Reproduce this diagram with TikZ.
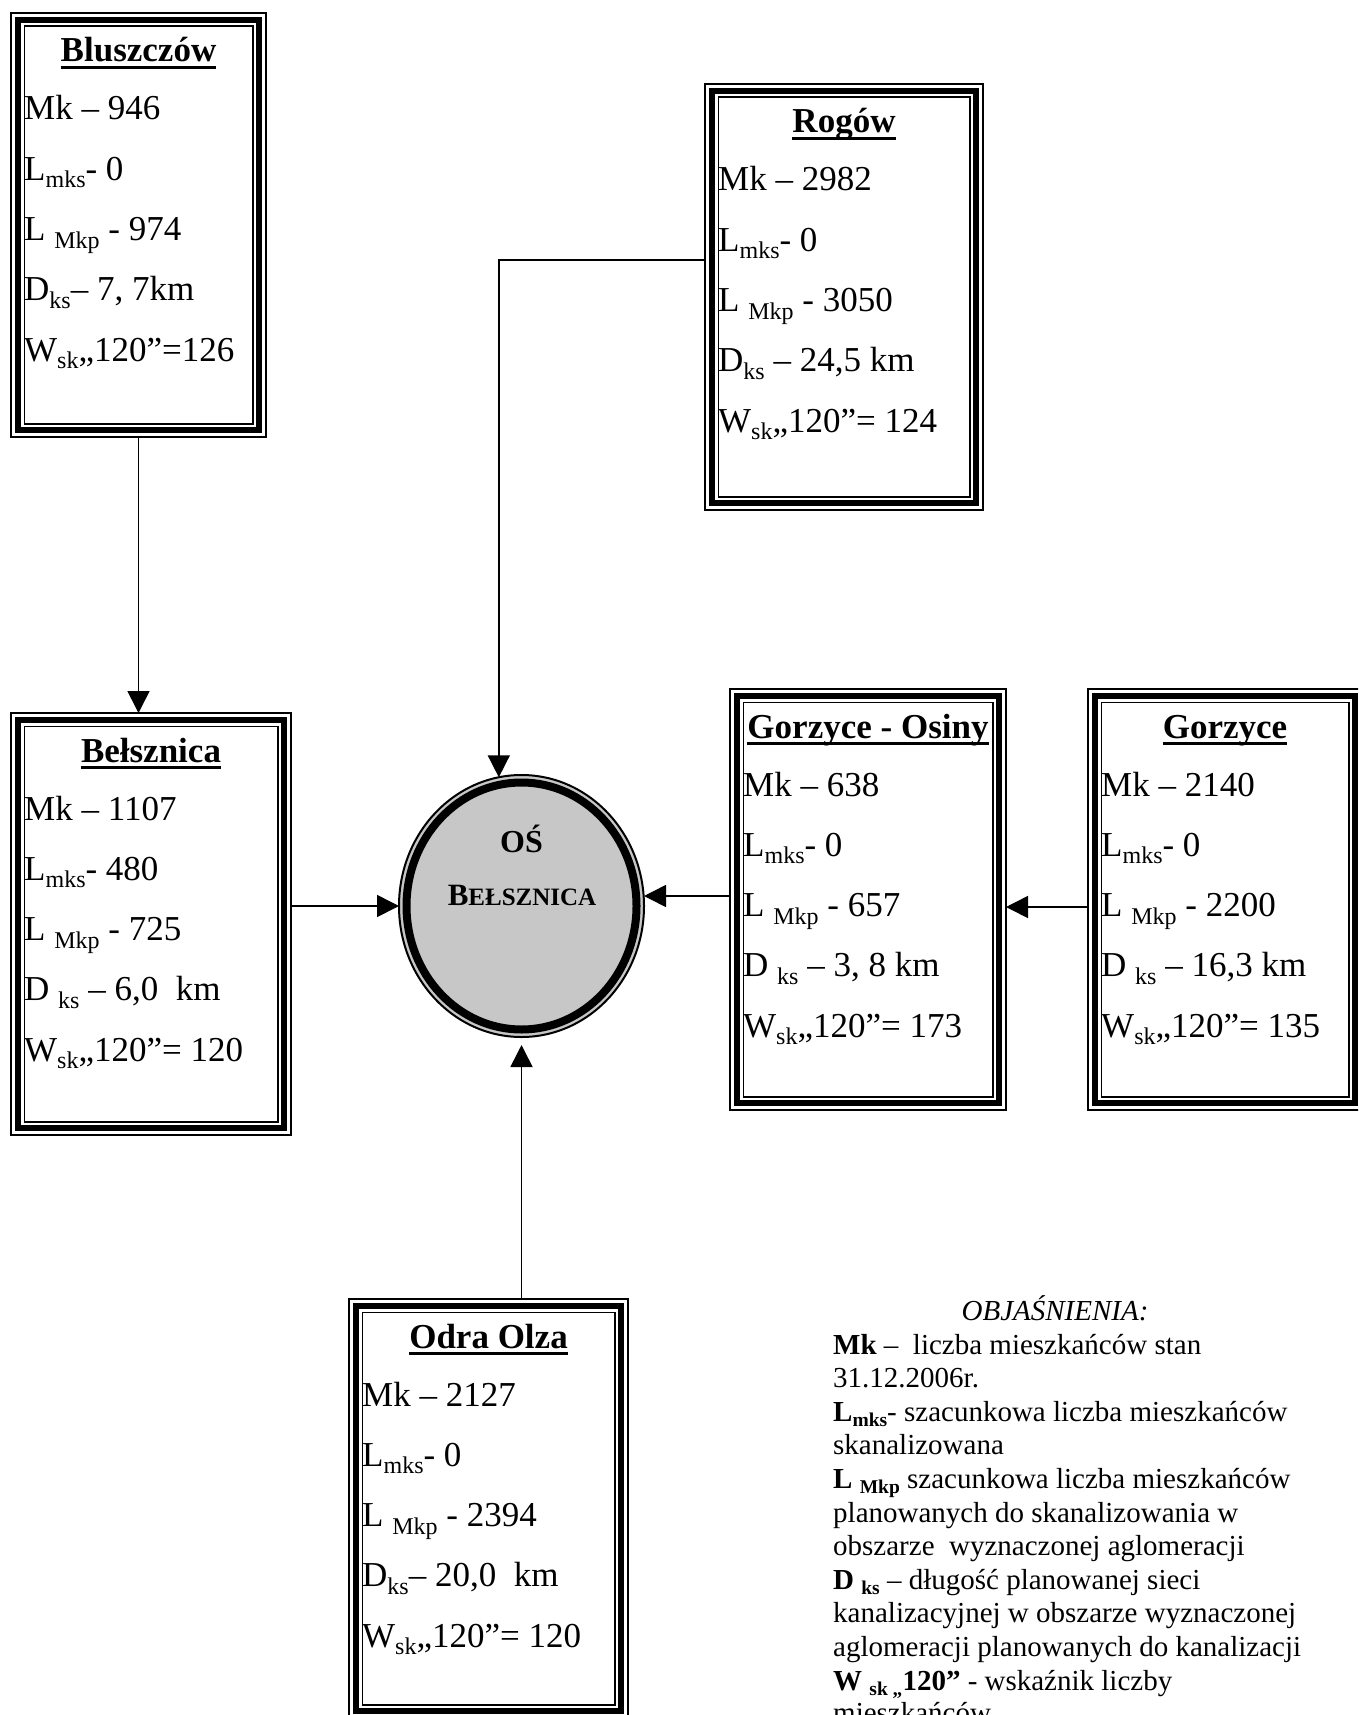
\documentclass[tikz,border=0pt]{standalone}
\usepackage{fontspec}
\setmainfont{Liberation Serif}
\usetikzlibrary{arrows.meta,shapes.geometric}
\newcommand\lsub[1]{\raisebox{-7.5pt}{\fontsize{24}{24}\selectfont #1}}
\newcommand\gsub[1]{\raisebox{-5.5pt}{\fontsize{19.5}{20}\selectfont #1}}
\newcommand\ulx[1]{\setbox0\hbox{#1}\rlap{\rule[-6.8pt]{\wd0}{2.4pt}}\box0}
\newcommand\tframe[1]{%
  \draw[line width=1.7pt] (#1.north west) rectangle (#1.south east);
  \draw[line width=6pt] ([shift={(7pt,-7pt)}]#1.north west) rectangle ([shift={(-7pt,7pt)}]#1.south east);
  \draw[line width=1.5pt] ([shift={(13.25pt,-13.25pt)}]#1.north west) rectangle ([shift={(-13.25pt,13.25pt)}]#1.south east);}
\newcommand\boxtext[7]{%
  \node[ttl] (#1-t) at ([yshift=-49pt]#1.north) {\ulx{#2}};
  \node[ln] (#1-1) at ([shift={(13pt,-107pt)}]#1.north west) {#3};
  \node[ln] (#1-2) at ([shift={(13pt,-167.3pt)}]#1.north west) {#4};
  \node[ln] (#1-3) at ([shift={(13pt,-227.6pt)}]#1.north west) {#5};
  \node[ln] (#1-4) at ([shift={(13pt,-287.9pt)}]#1.north west) {#6};
  \node[ln] (#1-5) at ([shift={(13pt,-348.2pt)}]#1.north west) {#7};}
\tikzset{
  boxn/.style={rectangle, anchor=north west, inner sep=0pt, outer sep=0pt},
  ttl/.style={anchor=base, inner sep=0pt, font=\fontsize{35}{42}\selectfont\bfseries},
  ln/.style={anchor=base west, inner sep=0pt, font=\fontsize{35}{42}\selectfont},
  hub/.style={ellipse, draw, line width=2pt, fill=black!22, minimum width=245pt, minimum height=262pt, inner sep=0pt, outer sep=0pt},
  hubt/.style={anchor=base, inner sep=0pt, font=\bfseries},
  conn/.style={line width=1.6pt, -{Triangle[length=22pt,width=22pt]}},
  leg/.style={anchor=base west, inner sep=0pt, font=\fontsize{29}{33}\selectfont},
}
\begin{document}
\begin{tikzpicture}[x=1pt,y=-1pt]
\useasboundingbox (0,0) rectangle (1358,1715);
\clip (0,0) rectangle (1358,1715);
\fill[white] (0,0) rectangle (1358,1715);

% boxes
\node[boxn, minimum width=255pt, minimum height=424pt] (blu) at (11,13) {};
\node[boxn, minimum width=278pt, minimum height=426pt] (rog) at (705,84) {};
\node[boxn, minimum width=280pt, minimum height=422pt] (bel) at (11,713) {};
\node[boxn, minimum width=276pt, minimum height=421pt] (osi) at (730,689) {};
\node[boxn, minimum width=274pt, minimum height=421pt] (gor) at (1088,689) {};
\node[boxn, minimum width=279pt, minimum height=419pt] (odr) at (349,1299) {};
\tframe{blu}\tframe{rog}\tframe{bel}\tframe{osi}\tframe{gor}\tframe{odr}

\boxtext{blu}{Bluszczów}{Mk – 946}{L\lsub{mks}- 0}{L \lsub{Mkp} - 974}{D\lsub{ks}– 7, 7km}{W\lsub{sk}„120”=126}
\boxtext{rog}{Rogów}{Mk – 2982}{L\lsub{mks}- 0}{L \lsub{Mkp} - 3050}{D\lsub{ks} – 24,5 km}{W\lsub{sk}„120”= 124}
\boxtext{bel}{Bełsznica}{Mk – 1107}{L\lsub{mks}- 480}{L \lsub{Mkp} - 725}{D \lsub{ks} – 6,0~ km}{W\lsub{sk}„120”= 120}
\boxtext{osi}{Gorzyce - Osiny}{Mk – 638}{L\lsub{mks}- 0}{L \lsub{Mkp} - 657}{D \lsub{ks} – 3, 8 km}{W\lsub{sk}„120”= 173}
\boxtext{gor}{Gorzyce}{Mk – 2140}{L\lsub{mks}- 0}{L \lsub{Mkp} - 2200}{D \lsub{ks} – 16,3 km}{W\lsub{sk}„120”= 135}
\boxtext{odr}{Odra Olza}{Mk – 2127}{L\lsub{mks}- 0}{L \lsub{Mkp} - 2394}{D\lsub{ks}– 20,0~ km}{W\lsub{sk}„120”= 120}

% hub
\node[hub] (ob) at (521.5,906) {};
\draw[line width=8pt] (ob.center) ellipse [x radius=115pt, y radius=123.5pt];
\node[hubt, font=\fontsize{32}{32}\selectfont\bfseries] (ob-1) at (521.5,852) {OŚ};
\node[hubt] (ob-2) at (522,905) {{\fontsize{31}{31}\selectfont B}{\fontsize{25}{25}\selectfont EŁSZNICA}};

% connectors
\draw[conn] (blu.south) -- (blu.south |- bel.north);
\draw[conn] (rog.west |- 0,260) -| (ob.100);
\draw[conn] (bel.east |- ob.west) -- (ob.west);
\draw[conn] (osi.west |- 0,896) -- (ob.east |- 0,896);
\draw[conn] (gor.west |- 0,907) -- (osi.east |- 0,907);
\draw[conn] (odr.north -| ob.south) -- ([yshift=-8pt]ob.south);

% legend
\node[leg, anchor=base, font=\fontsize{29}{33}\selectfont\itshape] (leg-0) at (1055,1320) {OBJAŚNIENIA:};
\node[leg] (leg-1) at (833,1354) {\textbf{Mk} –\ \ liczba mieszkańców stan};
\node[leg] (leg-2) at (833,1387.6) {31.12.2006r.};
\node[leg] (leg-3) at (833,1421.2) {\textbf{L\gsub{mks}}- szacunkowa liczba mieszkańców};
\node[leg] (leg-4) at (833,1454.8) {skanalizowana};
\node[leg] (leg-5) at (833,1488.4) {\textbf{L \gsub{Mkp}} szacunkowa liczba mieszkańców};
\node[leg] (leg-6) at (833,1522) {planowanych do skanalizowania w};
\node[leg] (leg-7) at (833,1555.6) {obszarze\ \ wyznaczonej aglomeracji};
\node[leg] (leg-8) at (833,1589.2) {\textbf{D \gsub{ks}} – długość planowanej sieci};
\node[leg] (leg-9) at (833,1622.8) {kanalizacyjnej w obszarze wyznaczonej};
\node[leg] (leg-10) at (833,1656.4) {aglomeracji planowanych do kanalizacji};
\node[leg] (leg-11) at (833,1690) {\textbf{W \gsub{sk „}120”} - wskaźnik liczby};
\node[leg] (leg-12) at (833,1722) {mieszkańców};
\end{tikzpicture}
\end{document}
